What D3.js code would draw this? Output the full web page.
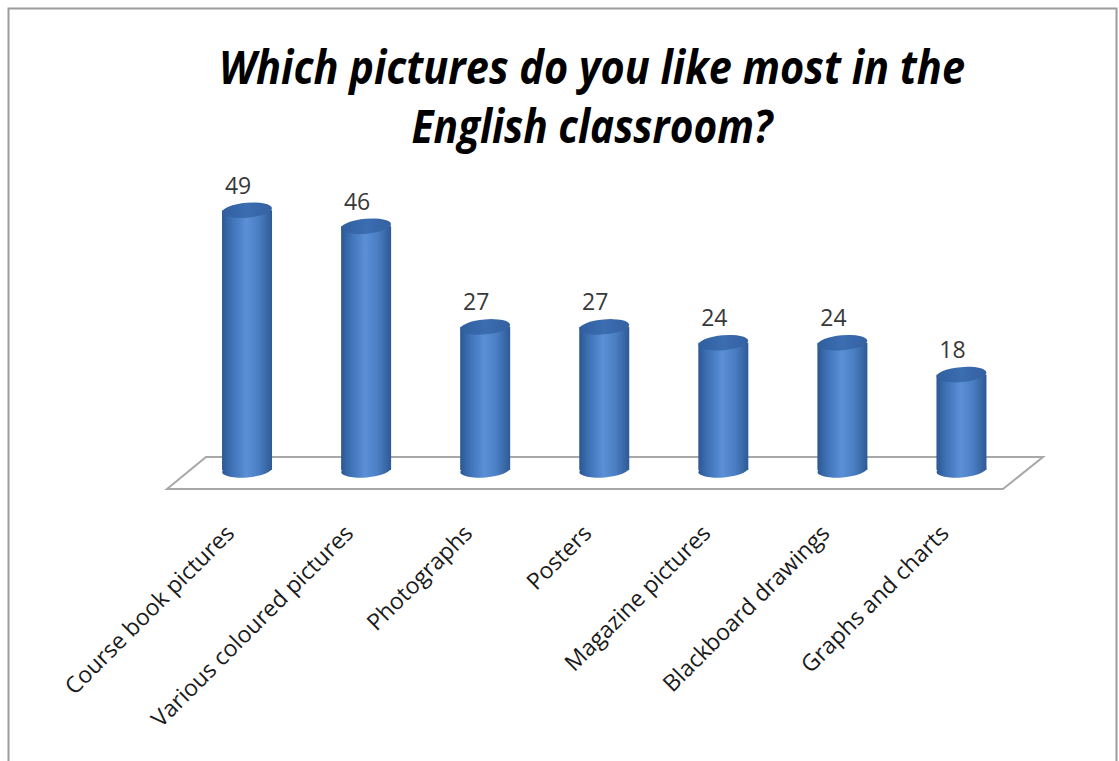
<!DOCTYPE html>
<html>
<head>
<meta charset="utf-8">
<script src="https://cdn.jsdelivr.net/npm/d3@7"></script>
<style>
  html, body { margin: 0; padding: 0; background: #ffffff; }
  svg { display: block; }
</style>
</head>
<body>
<svg id="chart" width="1119" height="761"></svg>
<script>
// Survey answers: which kinds of pictures pupils like most
const categories = [
  "Course book pictures",
  "Various coloured pictures",
  "Photographs",
  "Posters",
  "Magazine pictures",
  "Blackboard drawings",
  "Graphs and charts"
];
const values = [49, 46, 27, 27, 24, 24, 18];
const titleLines = ["Which pictures do you like most in the", "English classroom?"];

const svg = d3.select("#chart");

// outer frame
svg.append("rect")
  .attr("x", 8.5).attr("y", 8.5)
  .attr("width", 1108).attr("height", 800)
  .attr("fill", "#ffffff")
  .attr("stroke", "#9c9c9c").attr("stroke-width", 2);

// scales
const x = d3.scalePoint().domain(categories).range([187.5, 1021]).padding(0.5);
const y = d3.scaleLinear().domain([0, 50]).range([470, 205]);

const rx = 25, ry = 7.5, tilt = -5;

// gradients for the cylinder bodies and caps
const defs = svg.append("defs");
const body = defs.append("linearGradient").attr("id", "cylBody")
  .attr("x1", 0).attr("x2", 1).attr("y1", 0).attr("y2", 0);
[["0%", "#2c5893"], ["18%", "#3d70b4"], ["48%", "#5b90d7"], ["72%", "#4b7fc4"], ["100%", "#2e5a95"]]
  .forEach(([o, c]) => body.append("stop").attr("offset", o).attr("stop-color", c));
const cap = defs.append("linearGradient").attr("id", "cylCap")
  .attr("x1", 0).attr("x2", 1).attr("y1", 0).attr("y2", 0);
[["0%", "#305f9e"], ["50%", "#3b6db1"], ["100%", "#3461a1"]]
  .forEach(([o, c]) => cap.append("stop").attr("offset", o).attr("stop-color", c));

// floor
const x0 = x.range()[0], x1 = x.range()[1];
const floorPts = [
  [x0 - 20.5, 489], [x0 + 18.5, 457], [x1 + 22, 457], [x1 - 18, 489]
];
svg.append("polygon")
  .attr("points", floorPts.map(p => p.join(",")).join(" "))
  .attr("fill", "#ffffff")
  .attr("stroke", "#a8a8a8").attr("stroke-width", 2)
  .attr("stroke-linejoin", "miter");

// cylinders
const bars = svg.append("g").selectAll("g.bar")
  .data(categories.map((c, i) => ({ cat: c, v: values[i] })))
  .join("g").attr("class", "bar");

bars.append("ellipse")
  .attr("cx", d => x(d.cat)).attr("cy", y(0))
  .attr("rx", rx).attr("ry", ry)
  .attr("transform", d => `rotate(${tilt},${x(d.cat)},${y(0)})`)
  .attr("fill", "url(#cylBody)");

bars.append("rect")
  .attr("x", d => x(d.cat) - rx).attr("width", rx * 2)
  .attr("y", d => y(d.v)).attr("height", d => y(0) - y(d.v))
  .attr("fill", "url(#cylBody)");

bars.append("ellipse")
  .attr("cx", d => x(d.cat)).attr("cy", d => y(d.v))
  .attr("rx", rx).attr("ry", ry)
  .attr("transform", d => `rotate(${tilt},${x(d.cat)},${y(d.v)})`)
  .attr("fill", "url(#cylCap)");

// value labels
bars.append("text")
  .attr("x", d => x(d.cat) - 9)
  .attr("y", d => y(d.v) - ry - 9)
  .attr("text-anchor", "middle")
  .attr("font-family", "'Open Sans', 'DejaVu Sans', sans-serif")
  .attr("font-size", 23)
  .attr("fill", "#383838")
  .text(d => d.v);

// category labels, rotated
svg.append("g").selectAll("text")
  .data(categories)
  .join("text")
  .attr("transform", d => `translate(${x(d) - 17},${529}) rotate(-45)`)
  .attr("text-anchor", "end")
  .attr("dy", "0.35em")
  .attr("font-family", "'Open Sans', 'DejaVu Sans', sans-serif")
  .attr("font-size", 23)
  .attr("fill", "#1a1a1a")
  .text(d => d);

// title
const titleWidths = [746, 361];
svg.append("g").selectAll("text")
  .data(titleLines)
  .join("text")
  .attr("x", 592)
  .attr("y", (d, i) => 84 + i * 59)
  .attr("text-anchor", "middle")
  .attr("font-family", "'Open Sans', 'DejaVu Sans', sans-serif")
  .attr("font-weight", "bold")
  .attr("font-style", "italic")
  .attr("font-size", 46)
  .attr("textLength", (d, i) => titleWidths[i])
  .attr("lengthAdjust", "spacingAndGlyphs")
  .attr("fill", "#000000")
  .text(d => d);
</script>
</body>
</html>
